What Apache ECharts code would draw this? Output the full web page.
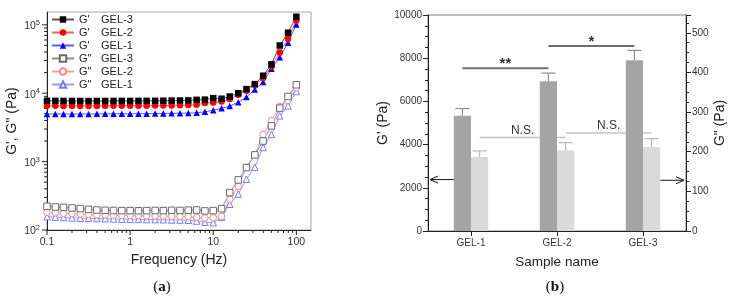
<!DOCTYPE html>
<html>
<head>
<meta charset="utf-8">
<script src="https://cdn.jsdelivr.net/npm/echarts@6/dist/echarts.min.js"></script>
<style>
  html, body { margin: 0; padding: 0; background: #fff; }
  #chart { width: 730px; height: 306px; }
</style>
</head>
<body>
<div id="chart"></div>
<script>
// ---------- (a) 频率扫描数据 ----------
const freq = [0.1, 0.126, 0.158, 0.2, 0.251, 0.316, 0.398, 0.501, 0.631, 0.794,
  1, 1.26, 1.58, 2, 2.51, 3.16, 3.98, 5.01, 6.31, 7.94,
  10, 12.6, 15.8, 20, 25.1, 31.6, 39.8, 50.1, 63.1, 79.4, 100];

const gp3 = [7750, 7720, 7700, 7700, 7690, 7680, 7700, 7690, 7700, 7710,
  7700, 7720, 7730, 7750, 7760, 7790, 7820, 7850, 8000, 8050,
  8480, 8300, 8950, 10000, 11480, 13590, 18000, 26400, 49900, 76600, 131000];
const gp2 = [6550, 6530, 6520, 6520, 6510, 6520, 6520, 6530, 6530, 6540,
  6550, 6560, 6570, 6590, 6600, 6620, 6650, 6700, 6770, 7170,
  7310, 7560, 8200, 9480, 10840, 13280, 16640, 24600, 39460, 62650, 115900];
const gp1 = [4980, 4980, 4970, 4970, 4980, 4980, 4990, 4990, 5000, 5000,
  5010, 5020, 5030, 5040, 5060, 5080, 5100, 5130, 5160, 5350,
  5630, 6020, 6480, 7360, 8770, 11330, 14590, 22750, 33560, 54700, 101400];
const gpp3 = [222, 217, 214, 210, 206, 200, 196, 194, 193, 192,
  192, 191, 192, 193, 192, 194, 193, 195, 196, 190,
  192, 205, 352, 540, 817, 1253, 2000, 3330, 6050, 8950, 13280];
const gpp2 = [181, 178, 175, 173, 171, 169, 167, 166, 165, 164,
  163, 162, 161, 160, 160, 159, 158, 157, 153, 150,
  152, 158, 281, 433, 828, 1253, 2500, 4010, 6400, 7800, 12000];
const gpp1 = [157, 154, 152, 150, 149, 148, 147, 146, 145, 144,
  144, 143, 142, 142, 141, 140, 140, 139, 135, 130,
  128, 153, 238, 336, 552, 828, 1610, 2500, 4670, 6530, 10590];

// 坐标轴刻度 (a)
const xTickVals = [0.1, 1, 10, 100];
const xTickText = ['0.1', '1', '10', '100'];
const xMinorTicks = [0.2, 0.3, 0.4, 0.5, 0.6, 0.7, 0.8, 0.9,
  2, 3, 4, 5, 6, 7, 8, 9, 20, 30, 40, 50, 60, 70, 80, 90];
const yTickVals = [100, 1000, 10000, 100000];
const yTickExp = ['2', '3', '4', '5'];
const yMinorTicks = [200, 300, 400, 500, 600, 700, 800, 900,
  2000, 3000, 4000, 5000, 6000, 7000, 8000, 9000,
  20000, 30000, 40000, 50000, 60000, 70000, 80000, 90000];

// ---------- (b) 柱状图数据 ----------
const cats = ['GEL-1', 'GEL-2', 'GEL-3'];
const gpMean = [5330, 6930, 7900];
const gpErr = [340, 380, 460];
const gppMean = [187, 204, 212];
const gppErr = [15, 19, 21];
// 显著性标注: [起始组, 结束组, 高度, 文字]
const sigGp = [[0, 1, 7530, '**'], [1, 2, 8560, '*']];
const sigGpp = [[0, 1, 236, 'N.S.'], [1, 2, 247, 'N.S.']];
// 指向坐标轴的箭头: [组, 数值]
const arrowGp = [0, 2380];
const arrowGpp = [2, 128];

const FONT = 'Liberation Sans, Arial, sans-serif';
const BAR_FRAC = 0.2;
const X_MIN = 0.1, X_MAX = 150, Y_MIN = 100, Y_MAX = 154000;

const chart = echarts.init(document.getElementById('chart'));

const toPairs = ys => freq.map((f, i) => [f, ys[i]]);

function lineSeries(name, ys, symbol, fill, stroke, lineColor) {
  return {
    name, type: 'line', xAxisIndex: 0, yAxisIndex: 0,
    data: toPairs(ys),
    symbol, symbolSize: 6.5,
    itemStyle: { color: fill, borderColor: stroke, borderWidth: fill === '#fff' ? 1 : 0 },
    lineStyle: { color: lineColor, width: 1 },
    emphasis: { disabled: true }
  };
}

// (a) 的刻度（含对数次刻度）
const tickList = [
  ...xTickVals.map(v => ({ axis: 'x', v, len: 5 })),
  ...xMinorTicks.map(v => ({ axis: 'x', v, len: 3 })),
  ...yTickVals.map(v => ({ axis: 'y', v, len: 5 })),
  ...yMinorTicks.map(v => ({ axis: 'y', v, len: 3 }))
];

function txt(x, y, text, font, fill, align, vAlign) {
  return {
    type: 'text', x, y,
    style: { text, font, fill, align, verticalAlign: vAlign, textAlign: align, textVerticalAlign: vAlign }
  };
}

// 误差线
function errRender(side, color) {
  return (params, api) => {
    const i = api.value(0), m = api.value(1), e = api.value(2);
    const band = api.size([1, 0])[0];
    const base = api.coord([i, m]);
    const top = api.coord([i, m + e]);
    const x = base[0] + side * band * BAR_FRAC / 2;
    const st = { stroke: color, lineWidth: 1.2 };
    return {
      type: 'group', children: [
        { type: 'line', shape: { x1: x, y1: base[1], x2: x, y2: top[1] }, style: st },
        { type: 'line', shape: { x1: x - 7, y1: top[1], x2: x + 7, y2: top[1] }, style: st }
      ]
    };
  };
}

// 显著性连线
function sigRender(list, side, color, width, font, dy) {
  return (params, api) => {
    const d = list[params.dataIndex];
    const band = api.size([1, 0])[0];
    const off = side * band * BAR_FRAC / 2;
    const a = api.coord([d[0], d[2]]);
    const b = api.coord([d[1], d[2]]);
    const x1 = a[0] + off, x2 = b[0] + off, y = a[1];
    return {
      type: 'group', children: [
        { type: 'line', shape: { x1, y1: y, x2, y2: y }, style: { stroke: color, lineWidth: width } },
        txt((x1 + x2) / 2, y + dy, d[3], font, '#333', 'center', 'middle')
      ]
    };
  };
}

// 箭头
function arrowRender(side) {
  return (params, api) => {
    const p = api.coord([api.value(0), api.value(1)]);
    const band = api.size([1, 0])[0];
    const x0 = p[0] + side * band * BAR_FRAC;
    const x1 = p[0] + side * (band / 2 - 2);
    const y = p[1];
    const st = { stroke: '#111', lineWidth: 1 };
    return {
      type: 'group', children: [
        { type: 'line', shape: { x1: x0, y1: y, x2: x1, y2: y }, style: st },
        { type: 'polyline', shape: { points: [[x1 - side * 8, y - 3.5], [x1, y], [x1 - side * 8, y + 3.5]] }, style: { stroke: '#111', lineWidth: 1, fill: null } }
      ]
    };
  };
}

const option = {
  animation: false,
  backgroundColor: '#fff',
  textStyle: { fontFamily: FONT },
  grid: [
    { left: 47, right: 419, top: 12, bottom: 76, show: true, borderColor: '#a8a8a8', borderWidth: 1 },
    { left: 428, right: 44, top: 15, bottom: 75, show: true, borderColor: '#808080', borderWidth: 1 }
  ],
  legend: {
    data: ["G' GEL-3", "G' GEL-2", "G' GEL-1", 'G" GEL-3', 'G" GEL-2', 'G" GEL-1'],
    orient: 'vertical', left: 51, top: 13, padding: 0, itemGap: 0,
    itemWidth: 22, itemHeight: 8, selectedMode: false,
    formatter: name => {
      const parts = name.split(' ');
      return '{g|' + parts[0] + '}{s|' + parts[1] + '}';
    },
    textStyle: {
      fontFamily: FONT, fontSize: 11, color: '#222', lineHeight: 13,
      rich: { g: { width: 22, fontSize: 11, lineHeight: 13 }, s: { fontSize: 11, lineHeight: 13 } }
    }
  },
  xAxis: [
    {
      type: 'log', gridIndex: 0, logBase: 10, min: X_MIN, max: X_MAX,
      name: 'Frequency (Hz)', nameLocation: 'middle', nameGap: 21,
      nameTextStyle: { fontSize: 14, color: '#222', fontFamily: FONT },
      axisLine: { show: true, lineStyle: { color: '#222', width: 1 } },
      axisTick: { show: false }, splitLine: { show: false },
      axisLabel: {
        margin: 7, fontSize: 10.5, color: '#333', showMaxLabel: false,
        formatter: v => {
          const i = xTickVals.findIndex(t => Math.abs(Math.log10(t) - Math.log10(v)) < 0.01);
          return i < 0 ? '' : xTickText[i];
        }
      }
    },
    {
      type: 'category', gridIndex: 1, data: cats,
      name: 'Sample name', nameLocation: 'middle', nameGap: 24,
      nameTextStyle: { fontSize: 13.5, color: '#222', fontFamily: FONT },
      axisLine: { show: true, lineStyle: { color: '#222', width: 1 } },
      axisTick: { show: true, alignWithLabel: true, length: 5, lineStyle: { color: '#222' } },
      axisLabel: { margin: 7, fontSize: 10, color: '#333' }
    }
  ],
  yAxis: [
    {
      type: 'log', gridIndex: 0, logBase: 10, min: Y_MIN, max: Y_MAX,
      name: 'G\', G" (Pa)', nameLocation: 'middle', nameGap: 28, nameRotate: 90,
      nameTextStyle: { fontSize: 14, color: '#222', fontFamily: FONT },
      axisLine: { show: true, lineStyle: { color: '#222', width: 1 } },
      axisTick: { show: false }, splitLine: { show: false },
      axisLabel: {
        margin: 7, color: '#333', showMaxLabel: false,
        formatter: v => {
          const i = yTickVals.findIndex(t => Math.abs(Math.log10(t) - Math.log10(v)) < 0.01);
          return i < 0 ? '' : '{b|10}{s|' + yTickExp[i] + '}';
        },
        rich: {
          b: { fontSize: 10.5, color: '#333', verticalAlign: 'bottom', lineHeight: 14 },
          s: { fontSize: 7.5, color: '#333', verticalAlign: 'bottom', lineHeight: 14, padding: [0, 0, 5, 0] }
        }
      }
    },
    {
      type: 'value', gridIndex: 1, min: 0, max: 10000, interval: 2000,
      name: "G' (Pa)", nameLocation: 'middle', nameGap: 33, nameRotate: 90,
      nameTextStyle: { fontSize: 14, color: '#222', fontFamily: FONT },
      axisLine: { show: true, lineStyle: { color: '#222', width: 1 } },
      axisTick: { show: true, length: 5, lineStyle: { color: '#222' } },
      minorTick: { show: true, splitNumber: 4, length: 3, lineStyle: { color: '#222' } },
      splitLine: { show: false },
      axisLabel: { margin: 6, fontSize: 10, color: '#333', formatter: v => String(v) }
    },
    {
      type: 'value', gridIndex: 1, position: 'right', min: 0, max: 545, interval: 100,
      name: 'G" (Pa)', nameLocation: 'middle', nameGap: 27, nameRotate: 90,
      nameTextStyle: { fontSize: 14, color: '#222', fontFamily: FONT },
      axisLine: { show: true, lineStyle: { color: '#222', width: 1 } },
      axisTick: { show: true, length: 5, lineStyle: { color: '#222' } },
      minorTick: { show: true, splitNumber: 4, length: 3, lineStyle: { color: '#222' } },
      splitLine: { show: false },
      axisLabel: { margin: 6, fontSize: 10, color: '#333', showMaxLabel: false, formatter: v => String(v) }
    }
  ],
  series: [
    lineSeries('G" GEL-1', gpp1, 'triangle', '#fff', '#7a7aff', '#9a9aff'),
    lineSeries('G" GEL-2', gpp2, 'circle', '#fff', '#f08a8a', '#f0a0a0'),
    lineSeries('G" GEL-3', gpp3, 'rect', '#fff', '#6a6a6a', '#8a8a8a'),
    lineSeries("G' GEL-1", gp1, 'triangle', '#0000ff', '#0000ff', '#5a5aff'),
    lineSeries("G' GEL-2", gp2, 'circle', '#ff0000', '#ff0000', '#ff6060'),
    lineSeries("G' GEL-3", gp3, 'rect', '#000000', '#000000', '#555555'),
    {
      type: 'custom', xAxisIndex: 0, yAxisIndex: 0, silent: true, clip: false,
      data: tickList.map(t => t.axis === 'x' ? [t.v, Y_MIN] : [X_MIN, t.v]),
      renderItem: (params, api) => {
        const t = tickList[params.dataIndex];
        const p = api.coord([api.value(0), api.value(1)]);
        const shape = t.axis === 'x'
          ? { x1: p[0], y1: p[1], x2: p[0], y2: p[1] + t.len }
          : { x1: p[0], y1: p[1], x2: p[0] - t.len, y2: p[1] };
        return { type: 'line', shape, style: { stroke: '#222', lineWidth: 1 } };
      }
    },
    {
      name: "G'", type: 'bar', xAxisIndex: 1, yAxisIndex: 1, data: gpMean,
      barWidth: '20%', barGap: '0%', itemStyle: { color: '#a4a4a4' }, emphasis: { disabled: true }
    },
    {
      name: 'G"', type: 'bar', xAxisIndex: 1, yAxisIndex: 2, data: gppMean,
      barWidth: '20%', barGap: '0%', itemStyle: { color: '#dadada' }, emphasis: { disabled: true }
    },
    {
      type: 'custom', xAxisIndex: 1, yAxisIndex: 1, silent: true, clip: false,
      encode: { x: 0, y: 1 },
      data: cats.map((c, i) => [i, gpMean[i], gpErr[i]]),
      renderItem: errRender(-1, '#8e8e8e')
    },
    {
      type: 'custom', xAxisIndex: 1, yAxisIndex: 2, silent: true, clip: false,
      encode: { x: 0, y: 1 },
      data: cats.map((c, i) => [i, gppMean[i], gppErr[i]]),
      renderItem: errRender(1, '#b8b8b8')
    },
    {
      type: 'custom', xAxisIndex: 1, yAxisIndex: 1, silent: true, clip: false,
      encode: { x: 0, y: 1 },
      data: sigGp.map(d => [d[0], d[2]]),
      renderItem: sigRender(sigGp, -1, '#6e6e6e', 2, 'bold 15px ' + FONT, -4)
    },
    {
      type: 'custom', xAxisIndex: 1, yAxisIndex: 2, silent: true, clip: false,
      encode: { x: 0, y: 1 },
      data: sigGpp.map(d => [d[0], d[2]]),
      renderItem: sigRender(sigGpp, 1, '#c4c4c4', 1.5, '12px ' + FONT, -7)
    },
    {
      type: 'custom', xAxisIndex: 1, yAxisIndex: 1, silent: true, clip: false,
      encode: { x: 0, y: 1 },
      data: [arrowGp],
      renderItem: arrowRender(-1)
    },
    {
      type: 'custom', xAxisIndex: 1, yAxisIndex: 2, silent: true, clip: false,
      encode: { x: 0, y: 1 },
      data: [arrowGpp],
      renderItem: arrowRender(1)
    }
  ],
  graphic: [
    {
      type: 'text', x: 162, y: 287,
      style: {
        text: '{p|(}{b|a}{p|)}', align: 'center', verticalAlign: 'middle',
        textAlign: 'center', textVerticalAlign: 'middle',
        rich: {
          p: { fontFamily: 'Liberation Serif', fontSize: 15, fill: '#111', color: '#111' },
          b: { fontFamily: 'Liberation Serif', fontSize: 15, fontWeight: 'bold', fill: '#111', color: '#111' }
        }
      }
    },
    {
      type: 'text', x: 555, y: 287,
      style: {
        text: '{p|(}{b|b}{p|)}', align: 'center', verticalAlign: 'middle',
        textAlign: 'center', textVerticalAlign: 'middle',
        rich: {
          p: { fontFamily: 'Liberation Serif', fontSize: 15, fill: '#111', color: '#111' },
          b: { fontFamily: 'Liberation Serif', fontSize: 15, fontWeight: 'bold', fill: '#111', color: '#111' }
        }
      }
    }
  ]
};

chart.setOption(option);
</script>
</body>
</html>
